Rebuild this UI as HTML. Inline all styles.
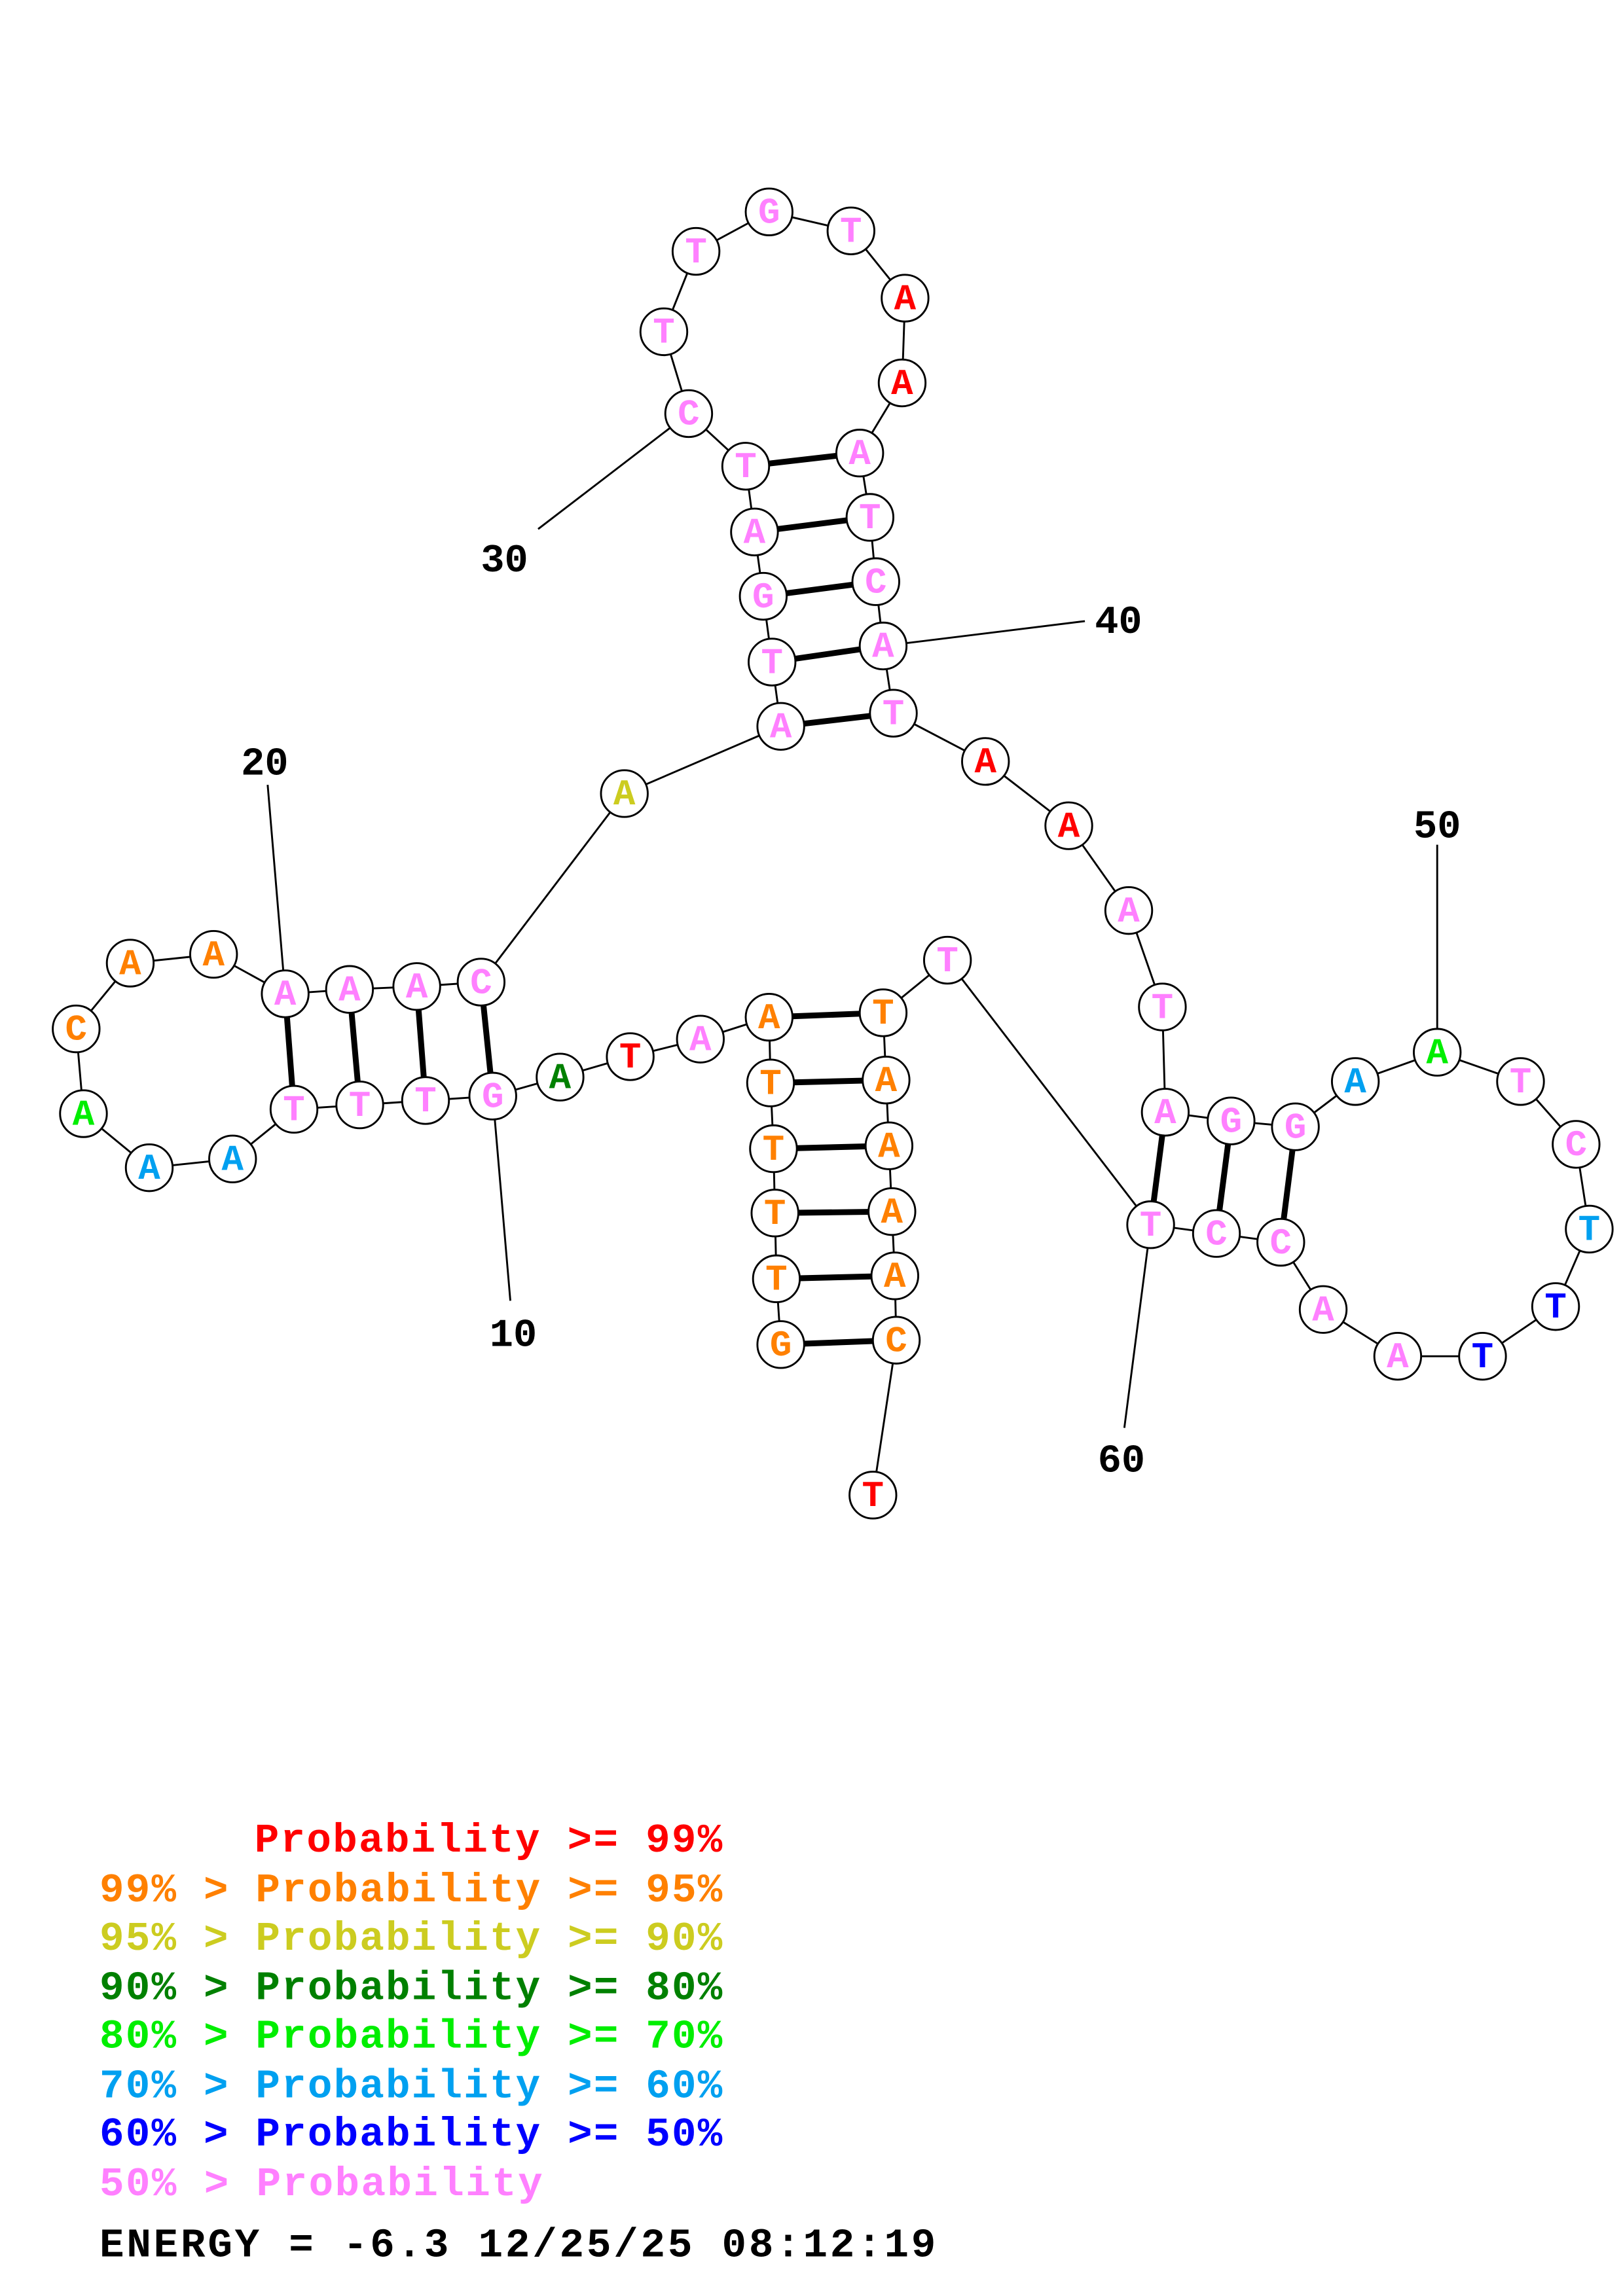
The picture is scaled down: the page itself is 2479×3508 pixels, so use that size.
<!DOCTYPE html>
<html><head><meta charset="utf-8">
<style>
html,body{margin:0;padding:0;background:#fff;}
svg{display:block;}
.n circle{fill:#fff;stroke:#000;stroke-width:1.3;}
.n text{font-family:"Liberation Mono",monospace;font-weight:bold;font-size:25px;text-anchor:middle;dominant-baseline:central;}
.p{fill:#FF80FF}.r{fill:#FF0000}.o{fill:#FF8000}.y{fill:#CCCC20}.d{fill:#008000}.g{fill:#00EE00}.s{fill:#00A0F0}.b{fill:#0000FF}
.lab{font-family:"Liberation Mono",monospace;font-weight:bold;font-size:27px;fill:#000;text-anchor:middle;}
.leg{font-family:"Liberation Mono",monospace;font-weight:bold;font-size:28px;}
</style></head><body>
<svg width="2479" height="3508" viewBox="0 0 1110 1571" xmlns="http://www.w3.org/2000/svg">
<g stroke="#000" stroke-width="1.3" fill="none">
<polyline points="534,920 531,875 530,830 529,786 527,741 526,696 479,711 431,723 383,737 337,750 291,753 246,756 201,759 159,793 102,799 57,762 52,704 89,659 146,653 195,680 239,677 285,675 329,672 427,543 534,497 528,453 522,408 516,364 510,319 471,283 454,227 476,172 526,145 582,158 619,204 617,262 588,310 595,354 599,398 604,442 611,488 674,521 731,565 772,623 795,689 797,761 842,767 886,771 927,740 983,720 1040,740 1078,783 1087,841 1064,894 1014,928 956,928 905,896 876,850 832,844 787,838 648,657 604,693 606,739 608,784 610,829 612,873 613,917 597,1023"/>
<line x1="368" y1="362" x2="471" y2="283"/>
<line x1="742" y1="425" x2="604" y2="442"/>
<line x1="183" y1="537" x2="195" y2="680"/>
<line x1="983" y1="578" x2="983" y2="720"/>
<line x1="349" y1="890" x2="337" y2="750"/>
<line x1="769" y1="977" x2="787" y2="838"/>
</g>
<g stroke="#000" stroke-width="4">
<line x1="534" y1="920" x2="613" y2="917"/><line x1="531" y1="875" x2="612" y2="873"/><line x1="530" y1="830" x2="610" y2="829"/><line x1="529" y1="786" x2="608" y2="784"/><line x1="527" y1="741" x2="606" y2="739"/><line x1="526" y1="696" x2="604" y2="693"/>
<line x1="337" y1="750" x2="329" y2="672"/><line x1="291" y1="753" x2="285" y2="675"/><line x1="246" y1="756" x2="239" y2="677"/><line x1="201" y1="759" x2="195" y2="680"/>
<line x1="534" y1="497" x2="611" y2="488"/><line x1="528" y1="453" x2="604" y2="442"/><line x1="522" y1="408" x2="599" y2="398"/><line x1="516" y1="364" x2="595" y2="354"/><line x1="510" y1="319" x2="588" y2="310"/>
<line x1="797" y1="761" x2="787" y2="838"/><line x1="842" y1="767" x2="832" y2="844"/><line x1="886" y1="771" x2="876" y2="850"/>
</g>
<g class="n">
<circle cx="534" cy="920" r="16"/><text x="534" y="921" class="o">G</text>
<circle cx="531" cy="875" r="16"/><text x="531" y="876" class="o">T</text>
<circle cx="530" cy="830" r="16"/><text x="530" y="831" class="o">T</text>
<circle cx="529" cy="786" r="16"/><text x="529" y="787" class="o">T</text>
<circle cx="527" cy="741" r="16"/><text x="527" y="742" class="o">T</text>
<circle cx="526" cy="696" r="16"/><text x="526" y="697" class="o">A</text>
<circle cx="479" cy="711" r="16"/><text x="479" y="712" class="p">A</text>
<circle cx="431" cy="723" r="16"/><text x="431" y="724" class="r">T</text>
<circle cx="383" cy="737" r="16"/><text x="383" y="738" class="d">A</text>
<circle cx="337" cy="750" r="16"/><text x="337" y="751" class="p">G</text>
<circle cx="291" cy="753" r="16"/><text x="291" y="754" class="p">T</text>
<circle cx="246" cy="756" r="16"/><text x="246" y="757" class="p">T</text>
<circle cx="201" cy="759" r="16"/><text x="201" y="760" class="p">T</text>
<circle cx="159" cy="793" r="16"/><text x="159" y="794" class="s">A</text>
<circle cx="102" cy="799" r="16"/><text x="102" y="800" class="s">A</text>
<circle cx="57" cy="762" r="16"/><text x="57" y="763" class="g">A</text>
<circle cx="52" cy="704" r="16"/><text x="52" y="705" class="o">C</text>
<circle cx="89" cy="659" r="16"/><text x="89" y="660" class="o">A</text>
<circle cx="146" cy="653" r="16"/><text x="146" y="654" class="o">A</text>
<circle cx="195" cy="680" r="16"/><text x="195" y="681" class="p">A</text>
<circle cx="239" cy="677" r="16"/><text x="239" y="678" class="p">A</text>
<circle cx="285" cy="675" r="16"/><text x="285" y="676" class="p">A</text>
<circle cx="329" cy="672" r="16"/><text x="329" y="673" class="p">C</text>
<circle cx="427" cy="543" r="16"/><text x="427" y="544" class="y">A</text>
<circle cx="534" cy="497" r="16"/><text x="534" y="498" class="p">A</text>
<circle cx="528" cy="453" r="16"/><text x="528" y="454" class="p">T</text>
<circle cx="522" cy="408" r="16"/><text x="522" y="409" class="p">G</text>
<circle cx="516" cy="364" r="16"/><text x="516" y="365" class="p">A</text>
<circle cx="510" cy="319" r="16"/><text x="510" y="320" class="p">T</text>
<circle cx="471" cy="283" r="16"/><text x="471" y="284" class="p">C</text>
<circle cx="454" cy="227" r="16"/><text x="454" y="228" class="p">T</text>
<circle cx="476" cy="172" r="16"/><text x="476" y="173" class="p">T</text>
<circle cx="526" cy="145" r="16"/><text x="526" y="146" class="p">G</text>
<circle cx="582" cy="158" r="16"/><text x="582" y="159" class="p">T</text>
<circle cx="619" cy="204" r="16"/><text x="619" y="205" class="r">A</text>
<circle cx="617" cy="262" r="16"/><text x="617" y="263" class="r">A</text>
<circle cx="588" cy="310" r="16"/><text x="588" y="311" class="p">A</text>
<circle cx="595" cy="354" r="16"/><text x="595" y="355" class="p">T</text>
<circle cx="599" cy="398" r="16"/><text x="599" y="399" class="p">C</text>
<circle cx="604" cy="442" r="16"/><text x="604" y="443" class="p">A</text>
<circle cx="611" cy="488" r="16"/><text x="611" y="489" class="p">T</text>
<circle cx="674" cy="521" r="16"/><text x="674" y="522" class="r">A</text>
<circle cx="731" cy="565" r="16"/><text x="731" y="566" class="r">A</text>
<circle cx="772" cy="623" r="16"/><text x="772" y="624" class="p">A</text>
<circle cx="795" cy="689" r="16"/><text x="795" y="690" class="p">T</text>
<circle cx="797" cy="761" r="16"/><text x="797" y="762" class="p">A</text>
<circle cx="842" cy="767" r="16"/><text x="842" y="768" class="p">G</text>
<circle cx="886" cy="771" r="16"/><text x="886" y="772" class="p">G</text>
<circle cx="927" cy="740" r="16"/><text x="927" y="741" class="s">A</text>
<circle cx="983" cy="720" r="16"/><text x="983" y="721" class="g">A</text>
<circle cx="1040" cy="740" r="16"/><text x="1040" y="741" class="p">T</text>
<circle cx="1078" cy="783" r="16"/><text x="1078" y="784" class="p">C</text>
<circle cx="1087" cy="841" r="16"/><text x="1087" y="842" class="s">T</text>
<circle cx="1064" cy="894" r="16"/><text x="1064" y="895" class="b">T</text>
<circle cx="1014" cy="928" r="16"/><text x="1014" y="929" class="b">T</text>
<circle cx="956" cy="928" r="16"/><text x="956" y="929" class="p">A</text>
<circle cx="905" cy="896" r="16"/><text x="905" y="897" class="p">A</text>
<circle cx="876" cy="850" r="16"/><text x="876" y="851" class="p">C</text>
<circle cx="832" cy="844" r="16"/><text x="832" y="845" class="p">C</text>
<circle cx="787" cy="838" r="16"/><text x="787" y="839" class="p">T</text>
<circle cx="648" cy="657" r="16"/><text x="648" y="658" class="p">T</text>
<circle cx="604" cy="693" r="16"/><text x="604" y="694" class="o">T</text>
<circle cx="606" cy="739" r="16"/><text x="606" y="740" class="o">A</text>
<circle cx="608" cy="784" r="16"/><text x="608" y="785" class="o">A</text>
<circle cx="610" cy="829" r="16"/><text x="610" y="830" class="o">A</text>
<circle cx="612" cy="873" r="16"/><text x="612" y="874" class="o">A</text>
<circle cx="613" cy="917" r="16"/><text x="613" y="918" class="o">C</text>
<circle cx="597" cy="1023" r="16"/><text x="597" y="1024" class="r">T</text>
</g>
<text class="lab" x="345" y="391">30</text>
<text class="lab" x="765" y="433">40</text>
<text class="lab" x="181" y="530">20</text>
<text class="lab" x="983" y="573">50</text>
<text class="lab" x="351" y="921">10</text>
<text class="lab" x="767" y="1007">60</text>
<g class="leg" xml:space="preserve">
<text x="174" y="1267" fill="#FF0000" textLength="320" lengthAdjust="spacing">Probability &gt;= 99%</text>
<text x="68" y="1301" fill="#FF8000" textLength="426" lengthAdjust="spacing">99% &gt; Probability &gt;= 95%</text>
<text x="68" y="1334" fill="#CCCC20" textLength="426" lengthAdjust="spacing">95% &gt; Probability &gt;= 90%</text>
<text x="68" y="1368" fill="#008000" textLength="426" lengthAdjust="spacing">90% &gt; Probability &gt;= 80%</text>
<text x="68" y="1401" fill="#00EE00" textLength="426" lengthAdjust="spacing">80% &gt; Probability &gt;= 70%</text>
<text x="68" y="1435" fill="#00A0F0" textLength="426" lengthAdjust="spacing">70% &gt; Probability &gt;= 60%</text>
<text x="68" y="1468" fill="#0000FF" textLength="426" lengthAdjust="spacing">60% &gt; Probability &gt;= 50%</text>
<text x="68" y="1502" fill="#FF80FF" textLength="303" lengthAdjust="spacing">50% &gt; Probability</text>
<text x="68" y="1544" fill="#000" textLength="572" lengthAdjust="spacing">ENERGY = -6.3  12/25/25 08:12:19</text>
</g>
</svg>
</body></html>
